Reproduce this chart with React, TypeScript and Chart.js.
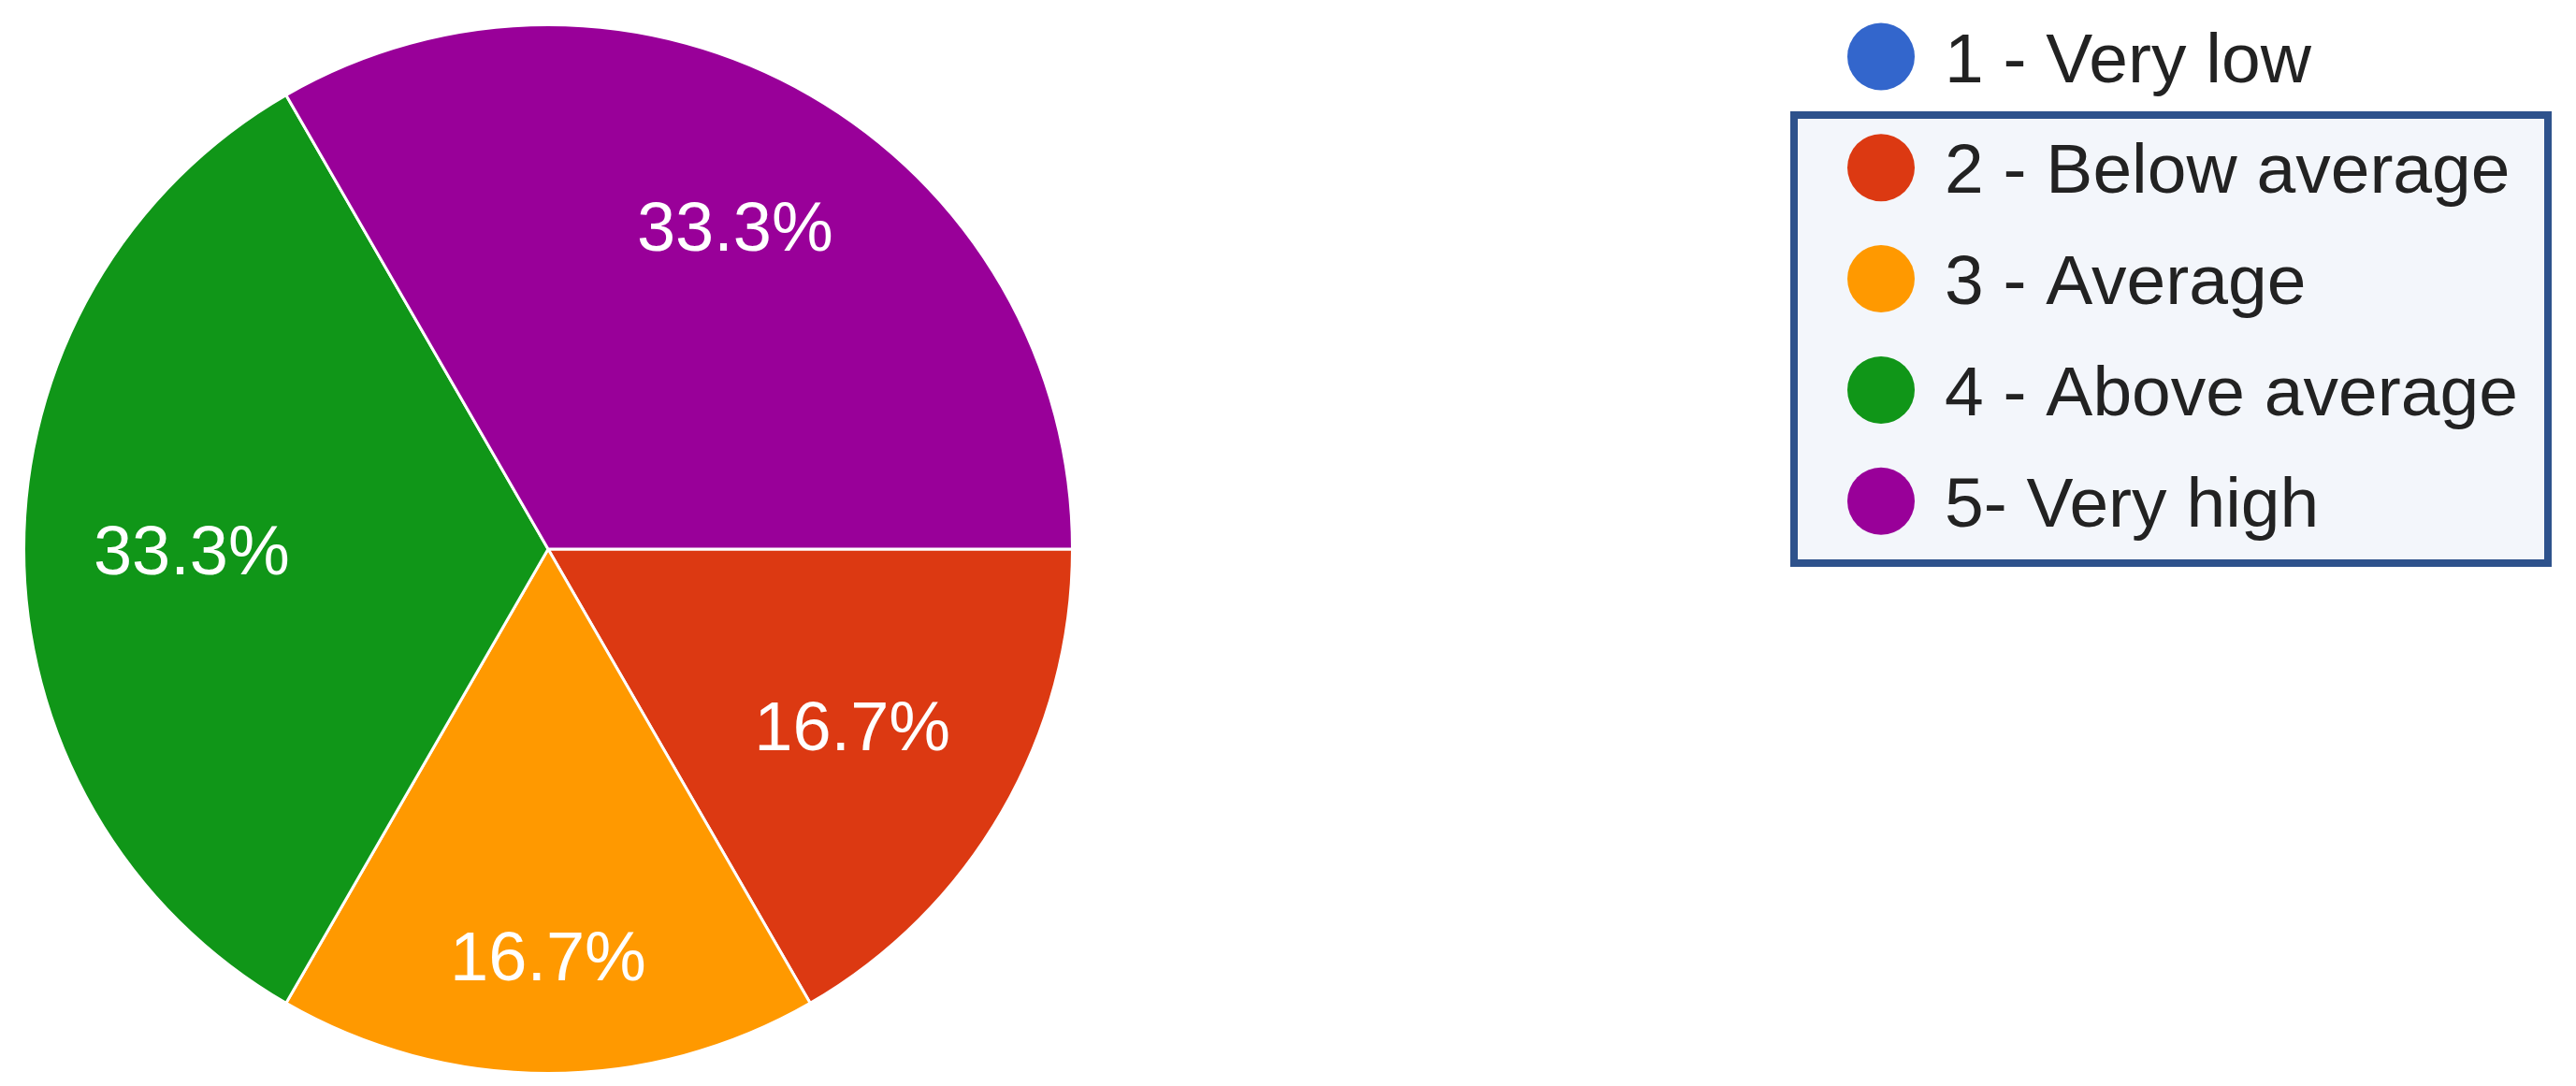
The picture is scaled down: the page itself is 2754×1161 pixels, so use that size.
import React, { useEffect, useRef } from 'react';
import { Chart, registerables } from 'chart.js';

Chart.register(...registerables);

// ---- data ----
const categories = ['1 - Very low', '2 - Below average', '3 - Average', '4 - Above average', '5- Very high'];
const responses = [0, 1, 1, 2, 2];
const sliceColors = ['#3366CC', '#DC3912', '#FF9900', '#109618', '#990099'];

// ---- styling / layout ----
const W = 2754;
const H = 1161;
const labelRadiusFactors = [0.7, 0.67, 0.775, 0.68, 0.713];
const highlightedFirst = 1;
const highlightedLast = 4;

const sliceLabelPlugin = {
  id: 'sliceLabels',
  afterDatasetsDraw(chart: any) {
    const ctx = chart.ctx;
    const meta = chart.getDatasetMeta(0);
    const data = chart.data.datasets[0].data as number[];
    const total = data.reduce((a, b) => a + b, 0);
    ctx.save();
    ctx.font = '74px "Liberation Sans", Arial, sans-serif';
    ctx.fillStyle = '#ffffff';
    ctx.textAlign = 'center';
    ctx.textBaseline = 'alphabetic';
    meta.data.forEach((arc: any, i: number) => {
      const v = data[i];
      if (!v) return;
      const p = arc.getProps(['x', 'y', 'startAngle', 'endAngle', 'outerRadius'], true);
      const mid = (p.startAngle + p.endAngle) / 2;
      const r = p.outerRadius * labelRadiusFactors[i];
      const tx = p.x + Math.cos(mid) * r;
      const ty = p.y + Math.sin(mid) * r;
      ctx.fillText(((v / total) * 100).toFixed(1) + '%', tx, ty + 27);
    });
    ctx.restore();
  },
};

const sideLegendPlugin = {
  id: 'sideLegend',
  afterDraw(chart: any) {
    const ctx = chart.ctx;
    const labels = chart.data.labels as string[];
    const colors = chart.data.datasets[0].backgroundColor as string[];
    const firstY = 60.5;
    const step = 118.8;
    const markerX = 2011;
    const markerR = 36;
    const textX = 2079;
    ctx.save();
    const boxTop = 119;
    const boxBottom = 606;
    const boxLeft = 1914;
    const boxRight = 2728;
    const bw = 8;
    const hlTop = boxTop;
    ctx.fillStyle = '#F3F6FB';
    ctx.fillRect(boxLeft, hlTop, boxRight - boxLeft, boxBottom - hlTop);
    ctx.strokeStyle = '#2E528C';
    ctx.lineWidth = bw;
    ctx.strokeRect(boxLeft + bw / 2, hlTop + bw / 2, boxRight - boxLeft - bw, boxBottom - hlTop - bw);

    ctx.font = '75px "Liberation Sans", Arial, sans-serif';
    ctx.textAlign = 'left';
    ctx.textBaseline = 'alphabetic';
    labels.forEach((lab, i) => {
      const cy = firstY + step * i;
      ctx.beginPath();
      ctx.arc(markerX, cy, markerR, 0, Math.PI * 2);
      ctx.fillStyle = colors[i];
      ctx.fill();
      ctx.fillStyle = '#222222';
      ctx.fillText(lab, textX, cy + 27);
    });
    ctx.restore();
  },
};

export default function App() {
  const canvasRef = useRef<HTMLCanvasElement | null>(null);

  useEffect(() => {
    if (!canvasRef.current) return;
    const pieSize = 1124;
    const padLeft = 24;
    const padTop = 25;
    const chart = new Chart(canvasRef.current, {
      type: 'pie',
      data: {
        labels: categories,
        datasets: [
          {
            data: responses,
            backgroundColor: sliceColors,
            borderColor: '#ffffff',
            borderWidth: 3,
          },
        ],
      },
      options: {
        responsive: false,
        animation: false,
        devicePixelRatio: 1,
        rotation: 90,
        layout: {
          padding: {
            left: padLeft,
            top: padTop,
            right: W - padLeft - pieSize,
            bottom: H - padTop - pieSize,
          },
        },
        plugins: {
          legend: { display: false },
          tooltip: { enabled: false },
          highlight: { first: highlightedFirst, last: highlightedLast },
        } as any,
      },
      plugins: [sliceLabelPlugin, sideLegendPlugin],
    });
    return () => chart.destroy();
  }, []);

  return (
    <div style={{ position: 'fixed', left: 0, top: 0, width: W, height: H, background: '#ffffff' }}>
      <canvas ref={canvasRef} width={W} height={H} style={{ display: 'block', width: W, height: H }} />
    </div>
  );
}
